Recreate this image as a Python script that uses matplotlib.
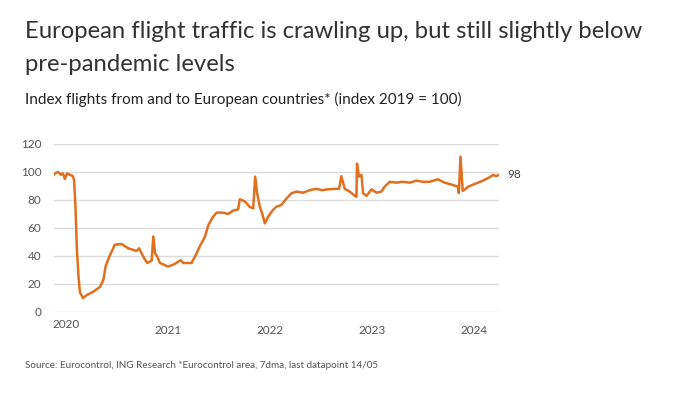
import pandas as pd
import matplotlib.pyplot as plt

plt.rcParams["font.family"] = ["Lato", "DejaVu Sans"]

# Index of flights (2019 = 100)
dates = [
    "2020-01-01", "2020-01-04", "2020-01-15", "2020-01-26", "2020-02-02", "2020-02-09",
    "2020-02-17", "2020-02-27", "2020-03-09", "2020-03-13", "2020-03-18", "2020-03-23",
    "2020-03-29", "2020-04-03", "2020-04-14", "2020-04-27", "2020-05-21", "2020-06-14",
    "2020-06-26", "2020-07-05", "2020-07-20", "2020-08-06", "2020-08-30", "2020-09-23",
    "2020-10-23", "2020-11-01", "2020-11-16", "2020-11-30", "2020-12-16", "2020-12-22",
    "2020-12-28", "2021-01-04", "2021-01-15", "2021-02-13", "2021-03-09", "2021-03-30",
    "2021-04-08", "2021-05-08", "2021-05-20", "2021-06-07", "2021-06-25", "2021-07-07",
    "2021-07-24", "2021-08-06", "2021-08-29", "2021-09-16", "2021-10-04", "2021-10-22",
    "2021-10-28", "2021-11-15", "2021-12-03", "2021-12-15", "2021-12-22", "2021-12-29",
    "2022-01-08", "2022-01-14", "2022-01-26", "2022-02-06", "2022-02-24", "2022-03-08",
    "2022-03-26", "2022-04-13", "2022-05-01", "2022-05-19", "2022-06-12", "2022-07-06",
    "2022-07-30", "2022-08-17", "2022-09-09", "2022-10-09", "2022-10-19", "2022-10-27",
    "2022-11-08", "2022-11-26", "2022-12-14", "2022-12-20", "2022-12-22", "2022-12-29",
    "2023-01-07", "2023-01-13", "2023-01-25", "2023-02-12", "2023-03-02", "2023-03-19",
    "2023-03-31", "2023-04-18", "2023-05-12", "2023-06-05", "2023-06-29", "2023-07-23",
    "2023-08-15", "2023-09-08", "2023-10-08", "2023-11-01", "2023-12-01", "2023-12-19",
    "2023-12-22", "2023-12-28", "2024-01-05", "2024-01-10", "2024-01-24", "2024-02-23",
    "2024-03-17", "2024-04-10", "2024-04-22", "2024-05-04", "2024-05-14",
]
index_values = [
    98, 99, 100, 98, 99, 95,
    99, 98, 97, 94, 75, 45,
    25, 14, 10, 12, 14.5, 18,
    23, 33.5, 40.7, 48, 48.6, 45.5,
    43.6, 45.5, 39.5, 35, 36.7, 54,
    42, 40, 35, 32.4, 34.3, 37,
    35, 35, 39.5, 47, 53.8, 62,
    68, 71, 71, 70, 72.4, 73.3,
    80.5, 79, 75, 74, 96.7, 85,
    75, 71.7, 63.3, 68, 72.9, 75.2,
    76.4, 81, 84.8, 86, 85.2, 87,
    88, 87, 87.6, 88, 88, 97,
    88, 86, 83, 82.4, 106, 96.7,
    97.9, 84.8, 82.9, 87.6, 85.2, 86,
    89.5, 93, 92.4, 93, 92.4, 93.8,
    93, 93, 94.8, 92.4, 90.7, 89.5,
    85, 111, 86.6, 87, 89.5, 91.9,
    93.8, 96.2, 97.9, 97, 98,
]
year_labels = ["2020", "2021", "2022", "2023", "2024"]
last_label = "98"

x = pd.to_datetime(dates)

fig = plt.figure(figsize=(6.99, 3.98), dpi=100)
ax = fig.add_axes([54 / 699, 86 / 398, 445 / 699, 168 / 398])

ax.plot(x, index_values, color="#e0701e", linewidth=1.8, solid_joinstyle="round")

ax.set_xlim(pd.Timestamp("2020-01-01"), pd.Timestamp("2024-05-14"))
ax.set_ylim(0, 120)
ax.set_yticks(range(0, 121, 20))
ax.grid(axis="y", color="#dcdcdc", linewidth=1)
ax.set_axisbelow(True)
for side in ["top", "right", "left", "bottom"]:
    ax.spines[side].set_visible(False)

# year labels sit a bit after 1 January in the original
tick_pos = [pd.Timestamp(y + "-02-14") for y in year_labels]
ax.set_xticks(tick_pos)
ax.set_xticklabels(year_labels)
ax.tick_params(axis="both", length=0, labelsize=8.5, labelcolor="#555555")
ax.tick_params(axis="y", pad=9)
ax.tick_params(axis="x", pad=9)
ax.xaxis.get_major_ticks()[0].set_pad(5)

ax.annotate(last_label, xy=(x[-1], index_values[-1]), xytext=(6, 0),
            textcoords="offset points", va="center", ha="left",
            fontsize=8.5, color="#444444")

fig.text(25 / 699, 1 - 38 / 398,
         "European flight traffic is crawling up, but still slightly below",
         fontsize=17.2, color="#333333", va="baseline")
fig.text(25 / 699, 1 - 71 / 398, "pre-pandemic levels",
         fontsize=17.2, color="#333333", va="baseline")
fig.text(25 / 699, 1 - 104 / 398,
         "Index flights from and to European countries* (index 2019 = 100)",
         fontsize=11, color="#222222", va="baseline")
fig.text(25 / 699, 1 - 368 / 398,
         "Source: Eurocontrol, ING Research *Eurocontrol area, 7dma, last datapoint 14/05",
         fontsize=7.1, color="#555555", va="baseline")

fig.savefig("out.png", dpi=100)
